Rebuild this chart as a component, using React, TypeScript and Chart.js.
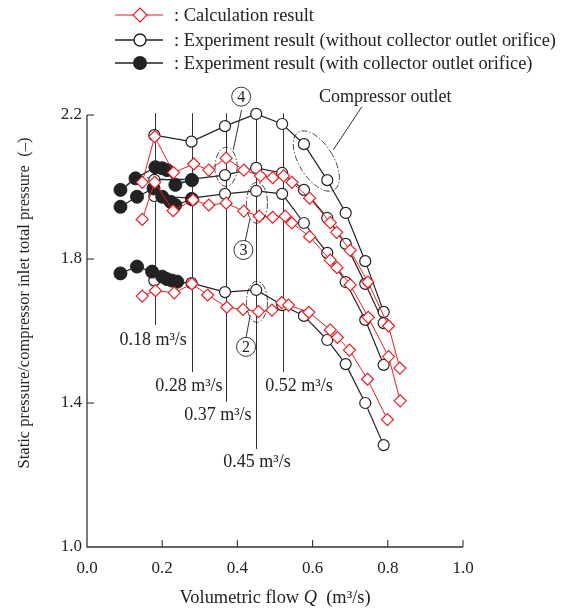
import React, { useEffect, useRef } from "react";
import { Chart, registerables } from "chart.js";
Chart.register(...registerables);

const FONT = '"Liberation Serif", "Times New Roman", serif';
const RED = "#ea1c24";
const BLACK = "#222222";
const CYAN = "#2aa6d6";

const X_TICKS = [0, 0.2, 0.4, 0.6, 0.8, 1.0];
const Y_TICKS = [1.0, 1.4, 1.8, 2.2];

// Experiment (without collector outlet orifice)
const expQ = [0.179, 0.278, 0.367, 0.45, 0.519, 0.577, 0.639, 0.688, 0.74, 0.789];
const expOutlet = [2.144, 2.126, 2.169, 2.203, 2.175, 2.119, 2.019, 1.928, 1.794, 1.653];
const exp4 = [2.02, 2.022, 2.033, 2.053, 2.039, 1.992, 1.914, 1.842, 1.731, 1.622];
const exp3 = [1.975, 1.969, 1.981, 1.989, 1.981, 1.9, 1.817, 1.736, 1.631, 1.506];
const exp2 = [1.74, 1.733, 1.708, 1.714, 1.672, 1.642, 1.575, 1.508, 1.4, 1.283];

// Experiment (with collector outlet orifice)
const orifQ4 = [0.089, 0.129, 0.182, 0.2, 0.213, 0.235, 0.279];
const orif4 = [1.992, 2.024, 2.055, 2.052, 2.047, 2.006, 2.019];
const orifQ3 = [0.089, 0.133, 0.177, 0.2, 0.222, 0.235, 0.279];
const orif3 = [1.945, 1.973, 1.996, 1.973, 1.959, 1.95, 1.966];
const orifQ2 = [0.089, 0.133, 0.173, 0.2, 0.213, 0.226, 0.24];
const orif2 = [1.76, 1.779, 1.765, 1.751, 1.744, 1.74, 1.737];

// Calculation results
const calcQ4 = [0.147, 0.18, 0.23, 0.284, 0.324, 0.37, 0.417, 0.461, 0.494, 0.523, 0.545, 0.592, 0.647, 0.664, 0.7, 0.747, 0.802, 0.832];
const calc4 = [2.013, 2.14, 2.04, 2.064, 2.047, 2.08, 2.047, 2.031, 2.026, 2.031, 2.013, 1.969, 1.901, 1.874, 1.824, 1.736, 1.614, 1.497];
const calcQ3 = [0.147, 0.18, 0.229, 0.282, 0.324, 0.37, 0.417, 0.458, 0.494, 0.527, 0.545, 0.592, 0.647, 0.665, 0.7, 0.748, 0.802, 0.833];
const calc3 = [1.91, 2.013, 1.934, 1.964, 1.95, 1.955, 1.933, 1.919, 1.916, 1.919, 1.9, 1.862, 1.797, 1.776, 1.728, 1.638, 1.529, 1.406];
const calcQ2 = [0.147, 0.182, 0.232, 0.279, 0.321, 0.372, 0.415, 0.456, 0.492, 0.518, 0.536, 0.59, 0.647, 0.666, 0.698, 0.746, 0.799];
const calc2 = [1.697, 1.712, 1.706, 1.731, 1.7, 1.666, 1.66, 1.654, 1.658, 1.679, 1.672, 1.652, 1.603, 1.582, 1.547, 1.466, 1.354];

// faint cyan trace in the low-flow region
const cyanQ = [0.105, 0.137, 0.147, 0.158, 0.265];
const cyanP = [2.001, 2.033, null, 2.027, 2.015];

// Annotations (data coordinates)
const vLineQ = [0.18, 0.28, 0.37, 0.45, 0.52];
const vLineTop = 2.205;
const vLineBottom = [1.617, 1.486, 1.403, 1.272, 1.486];
const vLabelQ = [0.176, 0.271, 0.348, 0.452, 0.564];
const vLabelP = [1.575, 1.447, 1.367, 1.236, 1.447];
const vLabelText = ["0.18", "0.28", "0.37", "0.45", "0.52"];

const circLabels = ["4", "3", "2"];
const circQ = [0.41, 0.416, 0.423];
const circP = [2.251, 1.825, 1.556];
const leaderFrom = [[0.411, 2.214], [0.42, 1.846], [0.423, 1.581], [0.655, 2.103]];
const leaderTo = [[0.389, 2.103], [0.434, 1.914], [0.434, 1.644], [0.731, 2.223]];
const ellQ = [0.37, 0.452, 0.452, 0.61];
const ellP = [2.056, 1.956, 1.681, 2.072];
const ellRx = [11, 10.5, 10.5, 17];
const ellRy = [19.5, 20.5, 20.5, 34];
const ellRot = [0, 0, 0, -32];
const outletLabel = "Compressor outlet";
const outletLabelQ = 0.617;
const outletLabelP = 2.25;

const legendLabels = [
  ": Calculation result",
  ": Experiment result (without collector outlet orifice)",
  ": Experiment result (with collector outlet orifice)",
];

const pts = (xs: number[], ys: (number | null)[]) => xs.map((x, i) => ({ x, y: ys[i] }));

function calcDs(xs: number[], ys: number[]) {
  return {
    data: pts(xs, ys),
    showLine: true,
    borderColor: RED,
    borderWidth: 1,
    pointStyle: "rectRot",
    pointRadius: 6,
    pointBorderWidth: 1.2,
    pointBorderColor: RED,
    pointBackgroundColor: "#ffffff",
    order: 0,
    clip: false,
  };
}
function expDs(xs: number[], ys: number[]) {
  return {
    data: pts(xs, ys),
    showLine: true,
    borderColor: BLACK,
    borderWidth: 1.2,
    pointStyle: "circle",
    pointRadius: 5.5,
    pointBorderWidth: 1.2,
    pointBorderColor: BLACK,
    pointBackgroundColor: "#ffffff",
    order: 2,
    clip: false,
  };
}
function orifDs(xs: number[], ys: number[]) {
  return {
    data: pts(xs, ys),
    showLine: true,
    borderColor: BLACK,
    borderWidth: 1.2,
    pointStyle: "circle",
    pointRadius: 6.5,
    pointBorderWidth: 1,
    pointBorderColor: BLACK,
    pointBackgroundColor: BLACK,
    order: 1,
    clip: false,
  };
}

const decor = {
  id: "decor",
  beforeDatasetsDraw(chart: any) {
    const { ctx, scales } = chart;
    const X = (v: number) => scales.x.getPixelForValue(v);
    const Y = (v: number) => scales.y.getPixelForValue(v);
    ctx.save();
    ctx.strokeStyle = "#333";
    ctx.lineWidth = 1;
    vLineQ.forEach((q, i) => {
      const x = Math.round(X(q)) + 0.5;
      ctx.beginPath();
      ctx.moveTo(x, Y(vLineTop));
      ctx.lineTo(x, Y(vLineBottom[i]));
      ctx.stroke();
    });
    ctx.restore();
  },
  afterDatasetsDraw(chart: any) {
    const { ctx, scales, chartArea } = chart;
    const X = (v: number) => scales.x.getPixelForValue(v);
    const Y = (v: number) => scales.y.getPixelForValue(v);
    ctx.save();
    // dash-dot ellipses
    ctx.strokeStyle = "#333";
    ctx.lineWidth = 0.9;
    ctx.setLineDash([6, 2, 1.5, 2]);
    ellQ.forEach((q, i) => {
      ctx.beginPath();
      ctx.ellipse(X(q), Y(ellP[i]), ellRx[i], ellRy[i], (ellRot[i] * Math.PI) / 180, 0, Math.PI * 2);
      ctx.stroke();
    });
    ctx.setLineDash([]);
    // leaders
    ctx.lineWidth = 1;
    leaderFrom.forEach((f, i) => {
      ctx.beginPath();
      ctx.moveTo(X(f[0]), Y(f[1]));
      ctx.lineTo(X(leaderTo[i][0]), Y(leaderTo[i][1]));
      ctx.stroke();
    });
    // circled numbers
    ctx.textAlign = "center";
    ctx.textBaseline = "middle";
    circLabels.forEach((t, i) => {
      const cx = X(circQ[i]);
      const cy = Y(circP[i]);
      ctx.fillStyle = "#fff";
      ctx.beginPath();
      ctx.arc(cx, cy, 9.5, 0, Math.PI * 2);
      ctx.fill();
      ctx.stroke();
      ctx.fillStyle = "#222";
      ctx.font = `16px ${FONT}`;
      ctx.fillText(t, cx, cy + 1);
    });
    // velocity labels
    ctx.font = `18px ${FONT}`;
    vLabelText.forEach((t, i) => {
      ctx.fillText(`${t} m³/s`, X(vLabelQ[i]), Y(vLabelP[i]));
    });
    // compressor outlet
    ctx.textAlign = "left";
    ctx.fillText(outletLabel, X(outletLabelQ), Y(outletLabelP));

    // axes lines with inward ticks
    ctx.strokeStyle = "#333";
    ctx.lineWidth = 1.3;
    ctx.beginPath();
    ctx.moveTo(chartArea.left, Y(Y_TICKS[Y_TICKS.length - 1]));
    ctx.lineTo(chartArea.left, chartArea.bottom);
    ctx.lineTo(X(X_TICKS[X_TICKS.length - 1]), chartArea.bottom);
    ctx.stroke();
    ctx.lineWidth = 1.1;
    Y_TICKS.forEach((v) => {
      if (v === Y_TICKS[0]) return;
      ctx.beginPath();
      ctx.moveTo(chartArea.left, Y(v));
      ctx.lineTo(chartArea.left + 7, Y(v));
      ctx.stroke();
    });
    X_TICKS.forEach((v) => {
      if (v === X_TICKS[0]) return;
      ctx.beginPath();
      ctx.moveTo(X(v), chartArea.bottom);
      ctx.lineTo(X(v), chartArea.bottom - 7);
      ctx.stroke();
    });

    // axis titles
    ctx.fillStyle = "#222";
    ctx.save();
    ctx.translate(25, (chartArea.top + chartArea.bottom) / 2 - 28);
    ctx.rotate(-Math.PI / 2);
    ctx.textAlign = "center";
    ctx.textBaseline = "middle";
    ctx.font = `16.5px ${FONT}`;
    ctx.fillText("Static pressure/compressor inlet total pressure  (\u2013)", 0, 0);
    ctx.restore();

    const p1 = "Volumetric flow ";
    const p2 = "Q";
    const p3 = "  (m³/s)";
    ctx.font = `18.4px ${FONT}`;
    const w1 = ctx.measureText(p1).width;
    const w3 = ctx.measureText(p3).width;
    ctx.font = `italic 18.4px ${FONT}`;
    const w2 = ctx.measureText(p2).width;
    const cx = (chartArea.left + chartArea.right) / 2;
    let sx = cx - (w1 + w2 + w3) / 2;
    const ty = 598;
    ctx.textAlign = "left";
    ctx.textBaseline = "middle";
    ctx.font = `18.4px ${FONT}`;
    ctx.fillText(p1, sx, ty);
    sx += w1;
    ctx.font = `italic 18.4px ${FONT}`;
    ctx.fillText(p2, sx, ty);
    sx += w2;
    ctx.font = `18.4px ${FONT}`;
    ctx.fillText(p3, sx, ty);

    // legend
    const rows = [15, 40, 63];
    rows.forEach((ry, i) => {
      ctx.lineWidth = i === 0 ? 1.2 : 1.4;
      ctx.strokeStyle = i === 0 ? RED : BLACK;
      ctx.beginPath();
      ctx.moveTo(115, ry);
      ctx.lineTo(163, ry);
      ctx.stroke();
      ctx.beginPath();
      if (i === 0) {
        ctx.moveTo(140, ry - 7);
        ctx.lineTo(147, ry);
        ctx.lineTo(140, ry + 7);
        ctx.lineTo(133, ry);
        ctx.closePath();
        ctx.fillStyle = "#fff";
        ctx.fill();
        ctx.stroke();
      } else if (i === 1) {
        ctx.arc(140, ry, 6, 0, Math.PI * 2);
        ctx.fillStyle = "#fff";
        ctx.fill();
        ctx.stroke();
      } else {
        ctx.arc(140, ry, 7, 0, Math.PI * 2);
        ctx.fillStyle = BLACK;
        ctx.fill();
      }
      ctx.fillStyle = "#222";
      ctx.font = `18.4px ${FONT}`;
      ctx.textAlign = "left";
      ctx.textBaseline = "middle";
      ctx.fillText(legendLabels[i], 174, ry + 1);
    });
    ctx.restore();
  },
};

export default function App() {
  const ref = useRef<HTMLCanvasElement>(null);
  useEffect(() => {
    const canvas = ref.current!;
    const chart = new Chart(canvas, {
      type: "scatter",
      data: {
        datasets: [
          calcDs(calcQ4, calc4),
          calcDs(calcQ3, calc3),
          calcDs(calcQ2, calc2),
          orifDs(orifQ4, orif4),
          orifDs(orifQ3, orif3),
          orifDs(orifQ2, orif2),
          expDs(expQ, expOutlet),
          expDs(expQ, exp4),
          expDs(expQ, exp3),
          expDs(expQ, exp2),
          {
            data: pts(cyanQ, cyanP),
            showLine: true,
            spanGaps: false,
            borderColor: CYAN,
            borderWidth: 1.2,
            pointRadius: 0,
            order: 3,
            clip: false,
          },
        ] as any,
      },
      options: {
        responsive: false,
        animation: false,
        layout: { padding: { top: 115, right: 106, left: 0, bottom: 0 } },
        plugins: { legend: { display: false }, tooltip: { enabled: false } },
        scales: {
          x: {
            type: "linear",
            min: 0,
            max: 1,
            afterFit: (s: any) => {
              s.height = 63;
            },
            afterBuildTicks: (s: any) => {
              s.ticks = X_TICKS.map((v) => ({ value: v }));
            },
            grid: { display: false, drawTicks: false },
            border: { display: false },
            ticks: {
              padding: 11,
              color: "#222",
              font: { family: FONT, size: 17 },
              callback: (v: any) => Number(v).toFixed(1),
            },
          },
          y: {
            type: "linear",
            min: 1.0,
            max: 2.2,
            afterFit: (s: any) => {
              s.width = 87;
            },
            afterBuildTicks: (s: any) => {
              s.ticks = Y_TICKS.map((v) => ({ value: v }));
            },
            grid: { display: false, drawTicks: false },
            border: { display: false },
            ticks: {
              padding: 5,
              color: "#222",
              font: { family: FONT, size: 17 },
              callback: (v: any) => Number(v).toFixed(1),
            },
          },
        },
      } as any,
      plugins: [decor],
    });
    return () => chart.destroy();
  }, []);
  return (
    <div style={{ position: "absolute", left: 0, top: 0, width: 569, height: 610, background: "#fff" }}>
      <canvas ref={ref} width={569} height={610} style={{ display: "block", width: 569, height: 610 }} />
    </div>
  );
}
